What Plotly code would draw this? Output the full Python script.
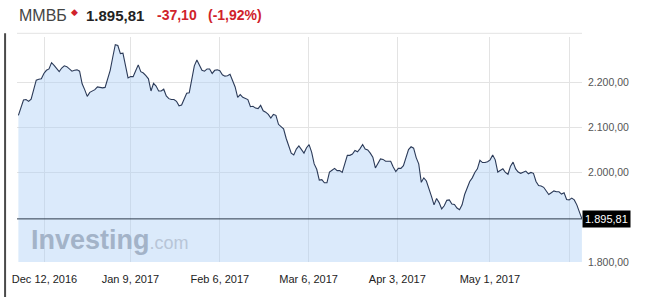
import plotly.graph_objects as go

# ---- data ----
INDEX_NAME = "ММВБ"
CHANGE = -37.10
VALUES = [2126, 2146, 2160, 2161, 2157, 2162, 2182, 2204, 2206, 2207,
          2219, 2226, 2229, 2243, 2237, 2229, 2223, 2231, 2236, 2234,
          2230, 2224, 2226, 2227, 2224, 2196, 2183, 2168, 2177, 2180,
          2183, 2189, 2188, 2187, 2188, 2205, 2226, 2255, 2283, 2281,
          2263, 2264, 2237, 2209, 2212, 2212, 2225, 2238, 2223, 2220,
          2214, 2207, 2180, 2197, 2191, 2180, 2180, 2184, 2169, 2163,
          2161, 2161, 2157, 2147, 2149, 2164, 2175, 2176, 2203, 2236,
          2249, 2237, 2226, 2224, 2229, 2229, 2219, 2226, 2227, 2225,
          2216, 2213, 2214, 2217, 2204, 2189, 2166, 2172, 2166, 2163,
          2161, 2145, 2146, 2142, 2141, 2148, 2136, 2133, 2128, 2120,
          2128, 2126, 2106, 2101, 2096, 2075, 2059, 2042, 2038, 2051,
          2058, 2050, 2042, 2054, 2061, 2044, 2018, 2006, 1982, 1983,
          1976, 1976, 2000, 2004, 2008, 2003, 2003, 1999, 2019, 2037,
          2037, 2040, 2048, 2045, 2052, 2061, 2051, 2049, 2042, 2033,
          2009, 2018, 2029, 2028, 2024, 2024, 2024, 2011, 2001, 2008,
          2008, 2014, 2031, 2050, 2056, 2053, 2032, 2018, 1977, 1987,
          1980, 1964, 1946, 1927, 1941, 1932, 1918, 1925, 1937, 1938,
          1929, 1928, 1920, 1916, 1927, 1950, 1966, 1979, 1987, 1999,
          2007, 2026, 2021, 2021, 2023, 2027, 2038, 2027, 2000, 2004,
          2007, 1999, 1995, 2013, 2022, 2007, 2000, 1997, 1999, 2002,
          1996, 1999, 1997, 1979, 1970, 1969, 1966, 1957, 1950, 1954,
          1958, 1956, 1956, 1951, 1954, 1939, 1938, 1942, 1938, 1927,
          1910, 1895.81]
X_LABELS = ["Dec 12, 2016", "Jan 9, 2017", "Feb 6, 2017", "Mar 6, 2017",
            "Apr 3, 2017", "May 1, 2017", ""]
Y_TICKS = [1800, 2000, 2100, 2200, 2300]

# ---- layout helpers (positions, not data) ----
X_TICK_POS = [10.24, 43.96, 79.01, 113.82, 148.6, 184.93, 216.08]
X_RANGE = [-0.545, 221.03]
Y_RANGE = [1800, 2300]

FONT = "Liberation Sans, Arial, sans-serif"


def ru(v, d=2):
    s = f"{v:,.{d}f}"
    return s.replace(",", "X").replace(".", ",").replace("X", ".")


last = VALUES[-1]
prev = last - CHANGE
pct = CHANGE / prev * 100

y_text = [ru(v) if v != 2300 else "" for v in Y_TICKS]

fig = go.Figure()
fig.add_trace(go.Scatter(
    x=list(range(len(VALUES))), y=VALUES, mode="lines",
    line=dict(color="#2b3a58", width=1.1),
    fill="tozeroy", fillcolor="rgba(170,205,245,0.42)",
    hoverinfo="skip", showlegend=False))

fig.update_layout(
    width=645, height=297,
    margin=dict(l=13, r=63, t=37, b=34),
    paper_bgcolor="white", plot_bgcolor="white",
    font=dict(family=FONT),
    xaxis=dict(range=X_RANGE, tickvals=X_TICK_POS, ticktext=X_LABELS,
               showgrid=True, gridcolor="#e3e3e3", gridwidth=1,
               zeroline=False, showline=False, ticks="",
               tickfont=dict(size=11, color="#222"), ticklabelstandoff=9),
    yaxis=dict(range=Y_RANGE, side="right", tickvals=Y_TICKS, ticktext=y_text,
               showgrid=True, gridcolor="#e3e3e3", gridwidth=1,
               zeroline=False, showline=False, ticks="",
               tickfont=dict(size=10.5, color="#555"), ticklabelstandoff=5),
)

shapes = [
    dict(type="line", xref="paper", yref="y", x0=0, x1=1, y0=last, y1=last,
         line=dict(color="#2e3b4a", width=1), layer="above"),
    dict(type="line", xref="paper", yref="paper", x0=0, x1=1, y0=1.0164, y1=1.0164,
         line=dict(color="#e3e3e3", width=1)),
    dict(type="line", xref="paper", yref="paper", x0=-0.0211, x1=-0.0211,
         y0=-0.16, y1=1.0164, line=dict(color="#4a4a4a", width=2)),
]
fig.update_layout(shapes=shapes)

ann = [
    # current value tag
    dict(x=1, xref="paper", y=last, yref="y", xanchor="left", yanchor="middle",
         text=ru(last), showarrow=False, bgcolor="#000000", borderpad=2,
         font=dict(color="white", size=11, family=FONT)),
    # watermark
    dict(x=0.022, xref="paper", y=0.097, yref="paper", xanchor="left", yanchor="middle",
         text="<b>Investing</b><span style='font-size:18px;color:#b8c5d7'>.com</span>",
         showarrow=False, font=dict(size=27, color="#a3b3c8", family=FONT)),
    # header
    dict(x=0.0, xref="paper", y=1.0973, yref="paper", xanchor="left", yanchor="middle",
         text=INDEX_NAME, showarrow=False, font=dict(size=16, color="#444", family=FONT)),
    dict(x=0.102, xref="paper", y=1.111, yref="paper", xanchor="center", yanchor="middle",
         text="◆", showarrow=False, font=dict(size=9, color="#d0232b", family="DejaVu Sans")),
    dict(x=0.1178, xref="paper", y=1.0973, yref="paper", xanchor="left", yanchor="middle",
         text="<b>" + ru(last) + "</b>", showarrow=False,
         font=dict(size=15, color="#222", family=FONT)),
    dict(x=0.2443, xref="paper", y=1.0973, yref="paper", xanchor="left", yanchor="middle",
         text="<b>" + ru(CHANGE) + "</b>", showarrow=False,
         font=dict(size=14, color="#d0232b", family=FONT)),
    dict(x=0.3339, xref="paper", y=1.0973, yref="paper", xanchor="left", yanchor="middle",
         text="<b>(" + ru(pct) + "%)</b>", showarrow=False,
         font=dict(size=14, color="#d0232b", family=FONT)),
]
fig.update_layout(annotations=ann)

fig.write_html("out.html")
